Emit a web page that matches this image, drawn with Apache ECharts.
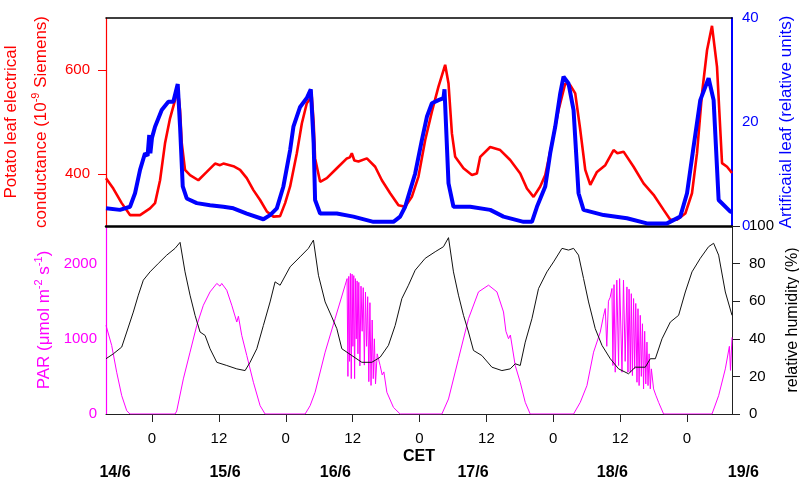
<!DOCTYPE html>
<html><head><meta charset="utf-8">
<script src="https://cdn.jsdelivr.net/npm/echarts@6/dist/echarts.min.js"></script>
<style>html,body{margin:0;padding:0;background:#fff}#c{width:799px;height:482px}</style>
</head><body><div id="c"></div><script>
// time in hours relative to 15/6 00:00 CET
const conductance = [[-8.26,392],[-6.95,372],[-5.44,344],[-3.95,321],[-2.15,321],[-0.36,334],[0.54,344],[1.44,388],[2.33,459],[3.23,507],[4.13,542],[4.61,565],[5.03,523],[5.33,460],[5.92,408],[6.82,398],[8.31,388],[9.82,404],[11.31,420],[12.2,417],[12.80,420],[14.60,415],[15.80,408],[17.00,392],[18.19,369],[19.39,350],[20.59,328],[21.78,318],[22.98,319],[23.88,344],[24.78,376],[25.98,440],[26.88,497],[27.77,536],[28.67,549],[29.0,500],[29.26,430],[30.16,385],[31.36,392],[33.16,411],[34.96,430],[35.5,432],[35.85,440],[36.3,426],[37.04,424],[38.55,430],[40.04,414],[41.24,388],[42.73,363],[44.22,340],[45.42,337],[46.62,356],[47.81,395],[49.01,465],[50.22,520],[51.40,568],[52.60,610],[53.20,574],[53.81,478],[54.40,433],[55.89,411],[57.40,398],[58.29,401],[58.89,433],[60.68,452],[62.48,446],[64.27,427],[66.07,401],[67.27,372],[68.46,356],[69.66,376],[70.56,398],[71.76,459],[72.95,523],[74.15,574],[75.04,571],[75.94,555],[76.84,485],[77.74,408],[78.64,379],[79.84,404],[81.33,417],[82.82,446],[83.5,440],[84.61,443],[86.41,414],[88.20,382],[90.00,360],[91.80,331],[93.00,312],[94.20,312],[95.69,324],[96.89,363],[97.79,440],[98.69,555],[99.59,638],[100.48,685],[101.38,606],[102.28,421],[103.18,414],[104.07,402]];

const artificialLeaf = [[-8.26,3.4],[-5.75,3.1],[-3.95,3.7],[-3.05,6.3],[-2.15,10.8],[-1.26,14],[-0.8,13.5],[-0.5,17.5],[-0.3,14],[0,17],[0.54,19.1],[1.74,22.3],[2.93,23.9],[3.82,23.9],[4.61,27.3],[5.03,19.1],[5.51,7.6],[6.23,5.3],[8.03,4.4],[10.41,4.0],[12.80,3.7],[14.60,3.4],[17.00,2.4],[19.98,1.3],[21.18,2.1],[22.39,3.4],[23.57,7.6],[24.78,14.6],[25.37,19.1],[26.57,22.9],[27.77,24.6],[28.49,26.3],[29.0,16],[29.26,5],[30.16,2.4],[33.16,2.4],[36.14,1.8],[39.73,0.8],[43.32,0.8],[44.52,1.8],[45.42,3.7],[46.32,6.9],[47.22,10.1],[48.42,16.5],[49.32,21.0],[50.22,23.6],[51.40,24.2],[52.30,24.6],[52.48,26.3],[53.20,8.2],[54.09,3.7],[57.09,3.7],[60.68,3.1],[63.07,1.8],[66.66,0.8],[68.17,0.8],[69.07,3.7],[70.56,7.6],[71.45,14],[72.35,19.1],[73.25,25.5],[73.84,28.7],[74.74,27.4],[75.64,22.3],[76.53,6.3],[77.43,3.1],[81.03,2.1],[85.22,1.5],[88.81,0.5],[92.41,0.5],[94.79,1.8],[96.00,6.3],[97.18,15.3],[98.38,24.2],[99.87,28.4],[100.77,24.2],[101.67,5],[103.77,2.75],[104.07,2.75]];

const par = [[-8.26,1179],[-7.24,912],[-6.34,555],[-5.44,244],[-4.54,44],[-3.95,0],[4.13,0],[4.43,40],[5.62,467],[6.82,822],[8.03,1179],[9.21,1446],[10.41,1624],[11.62,1736],[12.2,1700],[12.51,1736],[13.41,1646],[14.31,1446],[15.21,1223],[15.5,1300],[16.10,1045],[17.00,778],[18.19,422],[19.39,111],[20.29,0],[27.47,0],[28.37,111],[29.26,289],[31.06,822],[32.85,1268],[34.65,1713],[35.0,1800],[35.15,500],[35.3,1830],[35.45,700],[35.6,1869],[35.75,470],[35.9,1860],[36.05,900],[36.2,1840],[36.35,470],[36.5,1800],[36.65,1000],[36.8,1770],[36.95,800],[37.1,1750],[37.3,640],[37.5,1700],[37.7,1100],[37.9,1680],[38.1,650],[38.3,1620],[38.5,900],[38.7,1560],[38.9,430],[39.1,1480],[39.3,380],[39.5,1250],[39.7,470],[39.9,1000],[40.1,400],[40.4,800],[40.93,645],[41.3,520],[41.6,560],[42.14,289],[43.32,88],[44.52,0],[52.01,0],[53.20,200],[54.99,734],[56.79,1268],[58.58,1624],[60.38,1713],[61.89,1624],[63.07,1357],[63.5,1100],[63.97,1001],[64.3,1050],[65.17,645],[66.07,422],[66.97,155],[67.86,0],[75.64,0],[76.84,155],[78.04,378],[79.23,822],[80.43,1089],[81.0,1300],[81.33,1402],[81.6,900],[81.9,1500],[82.2,1550],[82.53,1669],[82.7,645],[82.9,1720],[83.12,556],[83.4,1780],[83.72,645],[83.9,1800],[84.1,1802],[84.33,556],[84.6,1780],[84.9,700],[85.22,1690],[85.4,556],[85.6,1660],[85.82,556],[86.0,1600],[86.2,511],[86.41,1535],[86.6,600],[86.8,1470],[87.02,422],[87.2,1400],[87.4,378],[87.61,1312],[87.8,500],[88.0,1200],[88.20,334],[88.4,1100],[88.6,400],[88.81,956],[89.0,378],[89.2,800],[89.41,334],[89.6,600],[90.00,334],[90.4,250],[90.90,155],[91.80,0],[100.48,0],[101.67,244],[102.87,600],[103.6,900],[103.8,580],[104.07,1020]];

const humidity = [[-8.26,29.4],[-6.95,32],[-5.44,35.6],[-4.54,43.6],[-3.36,54.2],[-2.46,63.2],[-1.56,71.2],[-0.36,75.6],[1.13,80.1],[2.64,84.5],[4.13,88.1],[5.03,91.3],[5.92,75.6],[6.82,63.2],[7.72,52.5],[8.62,43.6],[9.52,41.8],[10.41,34.7],[11.62,27.5],[13.41,25.8],[15.21,24.0],[16.70,23.1],[17.59,27.5],[18.80,34.7],[19.98,47.1],[21.18,59.6],[22.08,70.3],[22.98,68.5],[24.78,78.3],[26.57,83.6],[28.06,88.1],[28.96,92.5],[29.86,73.8],[31.06,59.6],[32.26,51.6],[33.16,45.4],[34.06,34.7],[35.85,31.1],[37.65,27.5],[39.44,27.5],[40.93,30.2],[42.42,36.5],[43.63,47.1],[44.83,61.4],[46.01,68.5],[47.22,76.5],[49.01,82.8],[50.81,86.3],[52.30,89],[53.20,93.8],[54.09,75.6],[54.99,63.2],[55.89,52.5],[56.79,43.6],[57.68,33.8],[59.19,31.1],[60.99,24.9],[62.78,23.1],[64.27,24],[65.17,26.7],[66.07,25.8],[66.97,38.2],[68.17,50.7],[69.35,66.7],[70.86,75.6],[72.05,80.9],[73.56,88.1],[74.74,87.2],[75.64,88.1],[76.53,84.5],[77.43,72.1],[78.33,59.6],[79.53,45.4],[80.74,36.5],[82.23,29.4],[83.72,24],[85.51,21.4],[86.71,24.9],[88.51,24.9],[89.41,29.4],[90.31,29.4],[91.51,40],[93.00,48.9],[94.49,52.5],[95.69,64.9],[96.89,75.6],[98.38,82.8],[99.87,89],[100.77,90.8],[101.67,84.5],[102.87,64.9],[104.07,52.5]];

const hourTicks = [0,12,24,36,48,60,72,84,96];
const leftTopTicks = [400,600];
const rightTopTicks = [0,20,40];
const parTicks = [0,1000,2000];
const dateLabels = ['14/6','15/6','16/6','17/6','18/6','19/6'];
const dateHours = [-6.64,13.1,32.9,57.6,82.6,106.1];

const FONT = '"Liberation Sans", Arial, Helvetica, sans-serif';
const RED = '#ff0000', BLUE = '#0000ff', MAG = '#ff00ff';
const X_MIN = -8.26, X_MAX = 104.07;
const plain = v => String(Math.round(v));

const chart = echarts.init(document.getElementById('c'), null, {renderer:'canvas'});
const option = {
  animation: false,
  backgroundColor: '#fff',
  textStyle: {fontFamily: FONT},
  grid: [
    {left: 106, right: 67, top: 18, height: 208, containLabel:false, outerBoundsMode:'none'},
    {left: 106, right: 67, top: 226, height: 188, containLabel:false, outerBoundsMode:'none'}
  ],
  xAxis: [
    {gridIndex:0, type:'value', min:X_MIN, max:X_MAX, position:'bottom',
      axisLine:{show:true, onZero:false, lineStyle:{color:'#000', width:2.5}},
      axisTick:{show:false}, axisLabel:{show:false}, splitLine:{show:false}},
    {gridIndex:0, type:'value', min:X_MIN, max:X_MAX, position:'top',
      axisLine:{show:true, onZero:false, lineStyle:{color:'#000', width:1.5}},
      axisTick:{show:false}, axisLabel:{show:false}, splitLine:{show:false}},
    {gridIndex:1, type:'value', min:X_MIN, max:X_MAX, position:'bottom',
      axisLine:{show:true, onZero:false, lineStyle:{color:'#222', width:1}},
      axisTick:{show:true, inside:false, length:8, customValues:hourTicks, lineStyle:{color:'#222'}},
      axisLabel:{show:true, customValues:hourTicks, formatter:v => String(Math.round(v) % 24),
        fontSize:15, color:'#000', margin:17, fontFamily:FONT},
      splitLine:{show:false},
      name:'CET', nameLocation:'middle', nameGap:35,
      nameTextStyle:{fontSize:16, fontWeight:'bold', color:'#000', fontFamily:FONT}}
  ],
  yAxis: [
    {gridIndex:0, type:'value', min:300, max:700, position:'left',
      axisLine:{show:true, onZero:false, lineStyle:{color:RED, width:1.2}},
      axisTick:{show:true, inside:false, length:8, customValues:leftTopTicks, lineStyle:{color:RED}},
      axisLabel:{customValues:leftTopTicks, formatter:plain, fontSize:15, color:RED, margin:16, fontFamily:FONT},
      splitLine:{show:false},
      name:'{a|Potato leaf electrical}\n{a|conductance (10}{s|-9}{a| Siemens)}',
      nameLocation:'middle', nameRotate:90, nameGap:50,
      nameTextStyle:{color:RED, fontFamily:FONT,
        rich:{a:{fontSize:17, color:RED, lineHeight:30, fontFamily:FONT},
              s:{fontSize:11, color:RED, lineHeight:30, verticalAlign:'top', padding:[4,0,0,0], fontFamily:FONT}}}},
    {gridIndex:0, type:'value', min:0, max:40, position:'right',
      axisLine:{show:true, onZero:false, lineStyle:{color:BLUE, width:2}},
      axisTick:{show:false},
      axisLabel:{customValues:rightTopTicks, formatter:plain, fontSize:15, color:BLUE, margin:10, fontFamily:FONT},
      splitLine:{show:false},
      name:'Artificaial leaf (relative units)', nameLocation:'middle', nameRotate:90, nameGap:46,
      nameTextStyle:{color:BLUE, fontSize:17, fontFamily:FONT}},
    {gridIndex:1, type:'value', min:0, max:2500, position:'left',
      axisLine:{show:true, onZero:false, lineStyle:{color:MAG, width:1.2}},
      axisTick:{show:false},
      axisLabel:{customValues:parTicks, formatter:plain, fontSize:15, color:MAG, margin:9, fontFamily:FONT},
      splitLine:{show:false},
      name:'{a|PAR (μmol m}{s|-2}{a| s}{s|-1}{a|)}',
      nameLocation:'middle', nameRotate:90, nameGap:50,
      nameTextStyle:{color:MAG, fontFamily:FONT,
        rich:{a:{fontSize:17, color:MAG, lineHeight:24, fontFamily:FONT},
              s:{fontSize:11, color:MAG, lineHeight:24, verticalAlign:'top', padding:[1,0,0,0], fontFamily:FONT}}}},
    {gridIndex:1, type:'value', min:0, max:100, interval:20, position:'right',
      axisLine:{show:true, onZero:false, lineStyle:{color:'#222', width:1}},
      axisTick:{show:true, inside:false, length:8, lineStyle:{color:'#222'}},
      axisLabel:{formatter:plain, fontSize:15, color:'#000', margin:17, fontFamily:FONT},
      splitLine:{show:false},
      name:'relative humidity (%)', nameLocation:'middle', nameRotate:90, nameGap:37,
      nameTextStyle:{color:'#000', fontSize:16, fontFamily:FONT}}
  ],
  series: [
    {type:'line', name:'conductance', xAxisIndex:0, yAxisIndex:0, data:conductance,
      showSymbol:false, lineStyle:{color:RED, width:2.6}, z:2},
    {type:'line', name:'artificial', xAxisIndex:0, yAxisIndex:1, data:artificialLeaf,
      showSymbol:false, lineStyle:{color:BLUE, width:4}, z:3},
    {type:'line', name:'PAR', xAxisIndex:2, yAxisIndex:2, data:par,
      showSymbol:false, lineStyle:{color:MAG, width:1}, z:2},
    {type:'line', name:'RH', xAxisIndex:2, yAxisIndex:3, data:humidity,
      showSymbol:false, lineStyle:{color:'#111', width:1}, z:3}
  ]
};
chart.setOption(option);

const graphics = dateLabels.map((t, i) => {
  const px = chart.convertToPixel({xAxisIndex:2}, dateHours[i]);
  return {type:'text', x:px, y:473,
    style:{text:t, fontSize:16, fontWeight:'bold', fill:'#000', font:'bold 16px ' + FONT,
      textAlign:'center', textVerticalAlign:'middle'}};
});
chart.setOption({graphic: graphics});
</script></body></html>
